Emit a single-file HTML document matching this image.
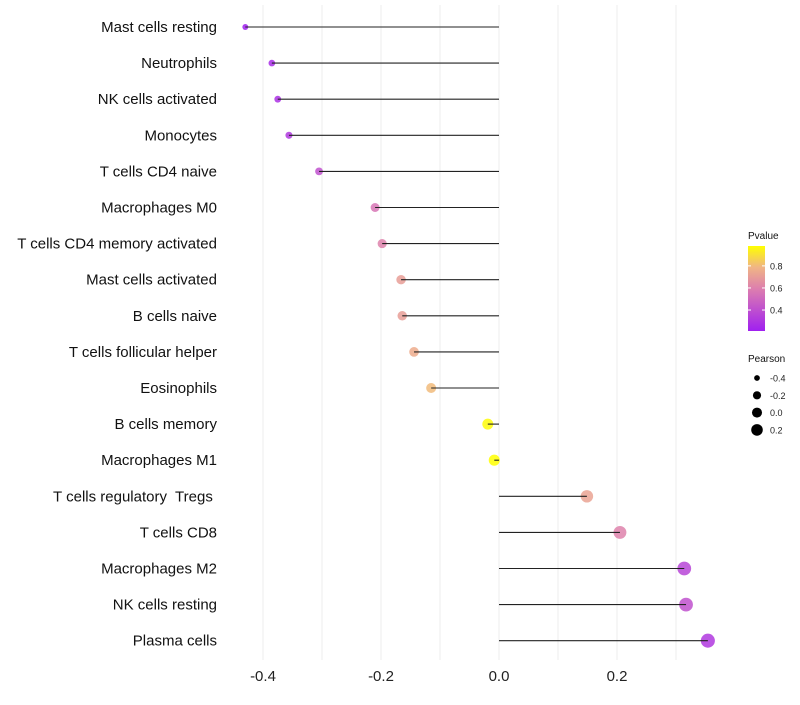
<!DOCTYPE html>
<html><head><meta charset="utf-8"><style>
body{margin:0;background:#fff;font-family:"Liberation Sans",sans-serif}
svg text{font-family:"Liberation Sans",sans-serif;white-space:pre}
</style></head><body>
<svg id="c" width="800" height="700">
<defs><linearGradient id="pg" x1="0" y1="1" x2="0" y2="0">
<stop offset="0" stop-color="#a020f0"/><stop offset="0.5" stop-color="#dd7fae"/><stop offset="0.75" stop-color="#f0b585"/><stop offset="1" stop-color="#ffff00"/></linearGradient></defs>
</svg>
<script>
const categories=["Mast cells resting","Neutrophils","NK cells activated","Monocytes","T cells CD4 naive","Macrophages M0","T cells CD4 memory activated","Mast cells activated","B cells naive","T cells follicular helper","Eosinophils","B cells memory","Macrophages M1","T cells regulatory  Tregs ","T cells CD8","Macrophages M2","NK cells resting","Plasma cells"];
const pearson=[-0.43,-0.385,-0.375,-0.356,-0.305,-0.21,-0.198,-0.166,-0.164,-0.144,-0.115,-0.019,-0.008,0.149,0.205,0.314,0.317,0.354];
const pvalue=[0.2,0.25,0.27,0.3,0.4,0.55,0.6,0.7,0.7,0.75,0.8,0.97,0.98,0.72,0.6,0.35,0.4,0.3];
const xTicks=[-0.4,-0.2,0.0,0.2];
const xTickLabels=["-0.4","-0.2","0.0","0.2"];
const gridVals=[-0.4,-0.3,-0.2,-0.1,0.0,0.1,0.2,0.3];
const sizeLegend=[-0.4,-0.2,0.0,0.2];
const pLegend=[0.4,0.6,0.8];
const NS="http://www.w3.org/2000/svg",svg=document.getElementById('c');
function mk(t,a,txt){const e=document.createElementNS(NS,t);for(const k in a)e.setAttribute(k,a[k]);if(txt!=null)e.textContent=txt;svg.appendChild(e);return e;}
const xs=v=>499+v*590;
const ys=i=>27+i*36.1;
const rs=v=>Math.max(2,Math.sqrt(Math.max(0,11+(v+0.385)*52)));
function lerp(a,b,t){return a.map((x,i)=>Math.round(x+(b[i]-x)*t));}
function pcol(p){const t=Math.max(0,Math.min(1,(p-0.2)/0.78));
 const st=[[0,[160,32,240]],[0.5,[221,127,174]],[0.75,[240,181,133]],[1,[255,255,0]]];
 for(let i=1;i<st.length;i++)if(t<=st[i][0]){const u=(t-st[i-1][0])/(st[i][0]-st[i-1][0]);return 'rgb('+lerp(st[i-1][1],st[i][1],u).join(',')+')';}
 return 'rgb(255,255,0)';}
gridVals.forEach(v=>{const g=mk('line',{x1:xs(v),x2:xs(v),y1:5,y2:660,stroke:'#eeeeee','stroke-width':1});

});
xTicks.forEach((v,i)=>{const t=mk('text',{x:xs(v),y:681,'text-anchor':'middle','font-size':15,fill:'#222'},xTickLabels[i]);

});
categories.forEach((c,i)=>{
 const t=mk('text',{x:217,y:ys(i)+5,'text-anchor':'end','font-size':15,fill:'#111'},c);
 
 
 const p=mk('circle',{cx:xs(pearson[i]),cy:ys(i),r:rs(pearson[i]),fill:pcol(pvalue[i]),'fill-opacity':0.85});
 
 
 const l=mk('line',{x1:xs(0),x2:xs(pearson[i]),y1:ys(i),y2:ys(i),stroke:'#222','stroke-width':1.1});
 
 
});
let e=mk('text',{x:748,y:239,'font-size':10,fill:'#111'},'Pvalue');


e=mk('rect',{x:748,y:246,width:17,height:85,fill:'url(#pg)'});


const py=p=>331-(p-0.21)/0.77*85;
pLegend.forEach(p=>{mk('line',{x1:748,x2:751,y1:py(p),y2:py(p),stroke:'#fff'});mk('line',{x1:762,x2:765,y1:py(p),y2:py(p),stroke:'#fff'});
 const t=mk('text',{x:770,y:py(p)+3.5,'font-size':9,fill:'#222'},p.toFixed(1));
 
 });
e=mk('text',{x:748,y:362,'font-size':10,fill:'#111'},'Pearson');


sizeLegend.forEach((v,i)=>{const y=378+i*17.3;
 const c=mk('circle',{cx:757,cy:y,r:rs(v)*0.9,fill:'#000'});
 
 
 const t=mk('text',{x:770,y:y+3.5,'font-size':9,fill:'#222'},v.toFixed(1));
 
 });
</script>
</body></html>
